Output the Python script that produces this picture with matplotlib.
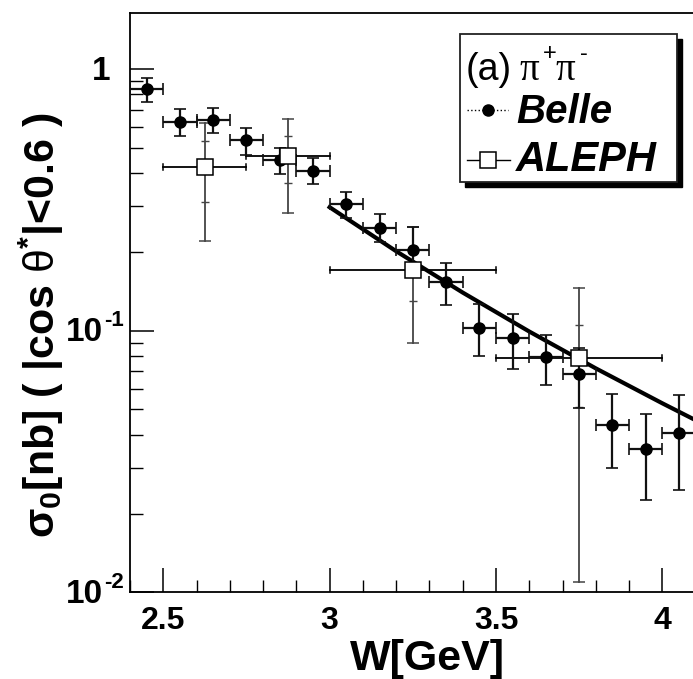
import matplotlib
matplotlib.use("Agg")
import matplotlib.pyplot as plt
from matplotlib.patches import Rectangle
from matplotlib.lines import Line2D
from matplotlib.transforms import offset_copy
from matplotlib.ticker import FixedLocator, MultipleLocator, LogLocator, NullFormatter

plt.rcParams['font.family'] = ['Liberation Sans', 'DejaVu Sans']
plt.rcParams['mathtext.fontset'] = 'custom'
plt.rcParams['mathtext.rm'] = 'Liberation Sans'
plt.rcParams['mathtext.bf'] = 'Liberation Sans:bold'
plt.rcParams['mathtext.it'] = 'Liberation Sans:italic'

# Belle data
belle_w = [2.45, 2.55, 2.65, 2.75, 2.85, 2.95, 3.05, 3.15, 3.25, 3.35, 3.45, 3.55, 3.65, 3.75, 3.85, 3.95, 4.05]
belle_sig = [0.836, 0.630, 0.638, 0.534, 0.450, 0.409, 0.304, 0.2475, 0.203, 0.153, 0.1027, 0.0934, 0.0793, 0.0681, 0.0436, 0.0352, 0.0408]
belle_hi = [0.924, 0.702, 0.708, 0.597, 0.500, 0.456, 0.340, 0.2786, 0.250, 0.181, 0.127, 0.1158, 0.0963, 0.086, 0.0571, 0.0479, 0.0568]
belle_lo = [0.750, 0.555, 0.568, 0.469, 0.397, 0.363, 0.269, 0.219, 0.175, 0.125, 0.080, 0.0712, 0.062, 0.0508, 0.030, 0.0225, 0.0246]
belle_wbin = 0.05

# ALEPH data
aleph_w = [2.625, 2.875, 3.25, 3.75]
aleph_wlo = [2.5, 2.75, 3.0, 3.5]
aleph_whi = [2.75, 3.0, 3.5, 4.0]
aleph_sig = [0.422, 0.466, 0.1706, 0.0784]
aleph_hi = [0.6235, 0.642, 0.250, 0.145]
aleph_lo = [0.2208, 0.281, 0.090, 0.011]
aleph_stat_hi = [0.532, 0.555, 0.211, 0.105]
aleph_stat_lo = [0.311, 0.368, 0.130, 0.051]

# Fit curve
fit_w = [3.0, 3.2, 3.4, 3.6, 3.8, 4.0, 4.1]
fit_sig = [0.2965, 0.2013, 0.1399, 0.0993, 0.0718, 0.0528, 0.0455]

# axis tick labels
xtick_vals = [2.5, 3.0, 3.5, 4.0]
xtick_labels = ['2.5', '3', '3.5', '4']
ytick_vals = [0.01, 0.1, 1.0]
ytick_base = ['10', '10', '1']
ytick_exp = ['-2', '-1', '']

W, H = 693, 679
fig = plt.figure(figsize=(W / 100, H / 100), dpi=100)
ax = fig.add_axes([130 / W, (H - 592.4) / H, 565.6 / W, (592.4 - 13.3) / H])
ax.set_yscale('log')
ax.set_xlim(2.4, 4.1)
ax.set_ylim(0.01, 1.633)

# ALEPH
agray = '#444444'
for i in range(len(aleph_w)):
    x, y = aleph_w[i], aleph_sig[i]
    ax.plot([aleph_wlo[i], aleph_whi[i]], [y, y], color='black', lw=1.3, zorder=2)
    for xx in (aleph_wlo[i], aleph_whi[i]):
        ax.plot([xx, xx], [y * 0.975, y / 0.975], color='black', lw=1.1, zorder=2)
    ax.plot([x, x], [aleph_lo[i], aleph_hi[i]], color=agray, lw=1.3, zorder=2)
ax.errorbar(aleph_w, aleph_sig,
            yerr=[[s - l for s, l in zip(aleph_sig, aleph_lo)], [h - s for s, h in zip(aleph_sig, aleph_hi)]],
            fmt='none', ecolor=agray, elinewidth=0, capsize=4, capthick=1.1, zorder=2)
ax.errorbar(aleph_w, aleph_sig,
            yerr=[[s - l for s, l in zip(aleph_sig, aleph_stat_lo)], [h - s for s, h in zip(aleph_sig, aleph_stat_hi)]],
            fmt='none', ecolor=agray, elinewidth=0, capsize=3, capthick=1.0, zorder=2)
ax.plot(aleph_w, aleph_sig, ls='none', marker='s', ms=11, mfc='white', mec='black', mew=1.1, zorder=5)

# Belle
ax.errorbar(belle_w, belle_sig,
            xerr=belle_wbin,
            yerr=[[s - l for s, l in zip(belle_sig, belle_lo)], [h - s for s, h in zip(belle_sig, belle_hi)]],
            fmt='o', color='black', ms=8, ecolor='#111111', elinewidth=1.6, capsize=4, capthick=1.2, zorder=4)

# fit
ax.plot(fit_w, fit_sig, color='black', lw=3, zorder=3)

# axes styling
ax.spines['right'].set_visible(False)
for sp in ax.spines.values():
    sp.set_linewidth(1.3)
ax.xaxis.set_major_locator(FixedLocator(xtick_vals))
ax.xaxis.set_minor_locator(MultipleLocator(0.1))
ax.set_xticklabels(xtick_labels)
ax.yaxis.set_major_locator(FixedLocator(ytick_vals))
ax.yaxis.set_minor_locator(LogLocator(base=10, subs=[2, 3, 4, 5, 6, 7, 8, 9]))
ax.yaxis.set_minor_formatter(NullFormatter())
ax.set_yticklabels(['' for _ in ytick_vals])
ax.tick_params(which='major', direction='in', length=17, width=1.1, labelsize=23, pad=10)
ax.tick_params(which='minor', direction='in', length=9, width=1.0)
ax.tick_params(axis='x', which='both', top=False)
ax.tick_params(axis='y', which='both', right=False)
for lab in ax.get_xticklabels():
    lab.set_fontweight('bold')

# manual y tick labels with short hyphen exponent
ytrans = ax.get_yaxis_transform()
for v, b, e in zip(ytick_vals, ytick_base, ytick_exp):
    base_tr = offset_copy(ytrans, fig=fig, x=0, y=-2, units='dots')
    if e:
        ax.text(-27 / 565.6, v, b, transform=base_tr, fontsize=24, fontweight='bold', ha='right', va='center',
                clip_on=False)
        sup_tr = offset_copy(ytrans, fig=fig, x=0, y=10, units='dots')
        ax.text(-26 / 565.6, v, e, transform=sup_tr, fontsize=16, fontweight='bold', ha='left', va='center',
                clip_on=False)
    else:
        ax.text(-20 / 565.6, v, b, transform=base_tr, fontsize=24, fontweight='bold', ha='right', va='center',
                clip_on=False)

fig.text(427 / W, (H - 659) / H, 'W[GeV]', fontsize=31, fontweight='bold', ha='center', va='center')
fig.text(41 / W, (H - 325) / H, r'$\mathbf{\sigma_0}$[nb] ( |cos $\mathrm{\theta}^{\mathbf{*}}$|<0.6 )',
         fontsize=31, fontweight='bold', rotation=90, ha='center', va='center')

# Legend (drawn in figure pixels)
def px(x, y):
    return (x / W, (H - y) / H)

lx0, ly0, lx1, ly1 = 460, 34, 677, 182
shadow = Rectangle(px(lx0 + 5, ly1 + 5), (lx1 - lx0) / W, (ly1 - ly0) / H, transform=fig.transFigure,
                   facecolor='black', edgecolor='black', zorder=9)
box = Rectangle(px(lx0, ly1), (lx1 - lx0) / W, (ly1 - ly0) / H, transform=fig.transFigure,
                facecolor='white', edgecolor='#222222', lw=1.3, zorder=10)
fig.add_artist(shadow)
fig.add_artist(box)

fig.text(*px(466, 80), '(a)', fontsize=27, va='baseline', ha='left', zorder=11)
fig.text(*px(519, 80), 'π', fontsize=28, family='Liberation Serif', va='baseline', ha='left', zorder=11)
fig.text(*px(543, 60), '+', fontsize=17, va='baseline', ha='left', zorder=11)
fig.text(*px(555, 80), 'π', fontsize=28, family='Liberation Serif', va='baseline', ha='left', zorder=11)
fig.text(*px(580, 60), '-', fontsize=17, va='baseline', ha='left', zorder=11)
# Belle entry
fig.add_artist(Line2D([px(467, 110)[0], px(508, 110)[0]], [px(467, 110)[1]] * 2, transform=fig.transFigure,
                      color='black', lw=1.0, ls=':', zorder=11))
fig.add_artist(Line2D([px(488, 110)[0]], [px(488, 110)[1]], transform=fig.transFigure, marker='o', ms=8,
                      color='black', zorder=12))
fig.text(*px(516, 112), 'Belle', fontsize=29, fontweight='bold', style='italic', va='center', ha='left', zorder=11)
# ALEPH entry
fig.add_artist(Line2D([px(467, 160)[0], px(510, 160)[0]], [px(467, 160)[1]] * 2, transform=fig.transFigure,
                      color='black', lw=1.0, zorder=11))
fig.add_artist(Line2D([px(488, 160)[0]], [px(488, 160)[1]], transform=fig.transFigure, marker='s', ms=11,
                      mfc='white', mec='black', mew=1.1, zorder=12))
fig.text(*px(516, 160), 'ALEPH', fontsize=30, fontweight='bold', style='italic', va='center', ha='left', zorder=11)

fig.savefig('out.png', dpi=100)
